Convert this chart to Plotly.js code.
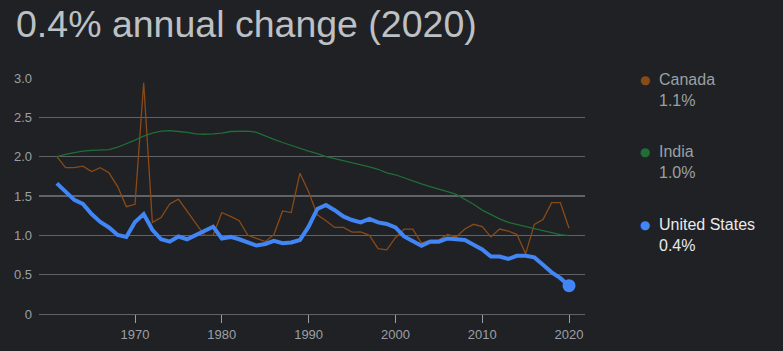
<!DOCTYPE html>
<html>
<head>
<meta charset="utf-8">
<script src="https://cdn.plot.ly/plotly-3.0.1.min.js"></script>
<style>
html,body{margin:0;padding:0;background:#202124;}
#chart{width:783px;height:351px;}
</style>
</head>
<body>
<div id="chart"></div>
<script>
const years = [];
for (let y = 1961; y <= 2020; y++) years.push(y);

const canada = [2.00,1.86,1.86,1.88,1.81,1.86,1.795,1.62,1.365,1.395,
  2.94,1.165,1.225,1.40,1.46,1.31,1.165,1.00,1.00,1.29,
  1.24,1.185,1.00,0.955,0.92,1.01,1.31,1.29,1.79,1.555,
  1.26,1.185,1.10,1.10,1.04,1.045,1.00,0.83,0.815,0.97,
  1.08,1.08,0.90,0.94,0.94,1.01,0.98,1.08,1.14,1.11,
  0.98,1.08,1.055,1.01,0.765,1.14,1.20,1.415,1.415,1.09];

const india = [2.00,2.03,2.05,2.07,2.08,2.085,2.09,2.12,2.16,2.21,
  2.26,2.30,2.325,2.33,2.32,2.31,2.29,2.285,2.29,2.30,
  2.32,2.325,2.325,2.31,2.26,2.22,2.18,2.14,2.105,2.07,
  2.04,2.00,1.975,1.95,1.92,1.90,1.87,1.84,1.795,1.77,
  1.73,1.69,1.655,1.62,1.59,1.555,1.52,1.46,1.395,1.32,
  1.26,1.21,1.165,1.135,1.11,1.085,1.06,1.035,1.01,0.995];

const unitedStates = [1.66,1.555,1.45,1.40,1.27,1.17,1.10,1.005,0.98,1.17,
  1.27,1.07,0.95,0.92,0.985,0.95,1.005,1.06,1.11,0.96,
  0.98,0.95,0.91,0.87,0.89,0.93,0.90,0.91,0.94,1.11,
  1.335,1.385,1.32,1.24,1.195,1.165,1.21,1.165,1.145,1.10,
  0.985,0.92,0.866,0.92,0.92,0.96,0.95,0.94,0.88,0.82,
  0.73,0.73,0.70,0.74,0.74,0.72,0.625,0.53,0.455,0.36];

const countries = ["Canada", "India", "United States"];
const latestLabels = ["1.1%", "1.0%", "0.4%"];
const seriesColors = ["#8a4a16", "#1f6e36", "#4285f4"];
const seriesData = [canada, india, unitedStates];
const titleText = "0.4% annual change (2020)";
const xTickVals = [1970, 1980, 1990, 2000, 2010, 2020];
const yTickVals = [0, 0.5, 1, 1.5, 2, 2.5, 3];
const yTickText = ["0", "0.5", "1.0", "1.5", "2.0", "2.5", "3.0"];

const FONT = "Liberation Sans, Arial, sans-serif";
const lineWidths = [1.3, 1.3, 4];

const traces = seriesData.map((d, i) => ({
  x: years, y: d, type: "scatter", mode: "lines",
  line: {color: seriesColors[i], width: lineWidths[i]},
  hoverinfo: "skip", showlegend: false
}));
// end-point marker for United States
traces.push({
  x: [years[years.length - 1]], y: [unitedStates[unitedStates.length - 1]],
  type: "scatter", mode: "markers",
  marker: {color: seriesColors[2], size: 13},
  hoverinfo: "skip", showlegend: false
});

// plot area in pixels
const PL = 39, PR = 585, PT = 78, PB = 314;
const px2x = p => (p - PL) / (PR - PL);
const px2y = p => (PB - p) / (PB - PT);

const legendY = [80, 152, 225]; // pixel centers of legend rows
const annotations = [];
countries.forEach((c, i) => {
  const active = i === 2;
  annotations.push({
    xref: "paper", yref: "paper", x: px2x(645), y: px2y(legendY[i]),
    xanchor: "center", yanchor: "middle", showarrow: false,
    text: "●", font: {family: "DejaVu Sans", size: 12, color: seriesColors[i]}
  });
  annotations.push({
    xref: "paper", yref: "paper", x: px2x(657), y: px2y(legendY[i] - 11),
    xanchor: "left", yanchor: "top", align: "left", showarrow: false,
    text: c + "<br>" + latestLabels[i],
    font: {family: FONT, size: 16, color: active ? "#e8eaed" : "#9aa0a6"}
  });
});

const layout = {
  width: 783, height: 351,
  paper_bgcolor: "#202124", plot_bgcolor: "#202124",
  margin: {l: PL, r: 783 - PR, t: PT, b: 351 - PB},
  title: {
    text: titleText, x: 16 / 783, xanchor: "left", xref: "container",
    y: 1 - 24 / 351, yanchor: "middle", yref: "container",
    font: {family: FONT, size: 37.5, color: "#bdc1c6"}
  },
  xaxis: {
    range: [1958.94, 2021.84], tickvals: xTickVals, ticktext: xTickVals.map(String),
    showgrid: false, zeroline: false, showline: true, linecolor: "#5f6368", linewidth: 1.3,
    ticks: "outside", ticklen: 8, tickcolor: "#9aa0a6", tickwidth: 1,
    tickfont: {family: FONT, size: 13, color: "#9aa0a6"}, fixedrange: true
  },
  yaxis: {
    range: [0, 3], tickvals: yTickVals, ticktext: yTickText,
    showgrid: true, gridcolor: "#5f6368", gridwidth: 1.2, zeroline: false,
    ticks: "", ticklabelstandoff: 6,
    tickfont: {family: FONT, size: 13, color: "#9aa0a6"}, fixedrange: true
  },
  annotations: annotations,
  showlegend: false
};

Plotly.newPlot("chart", traces, layout, {displayModeBar: false, staticPlot: true});
</script>
</body>
</html>
